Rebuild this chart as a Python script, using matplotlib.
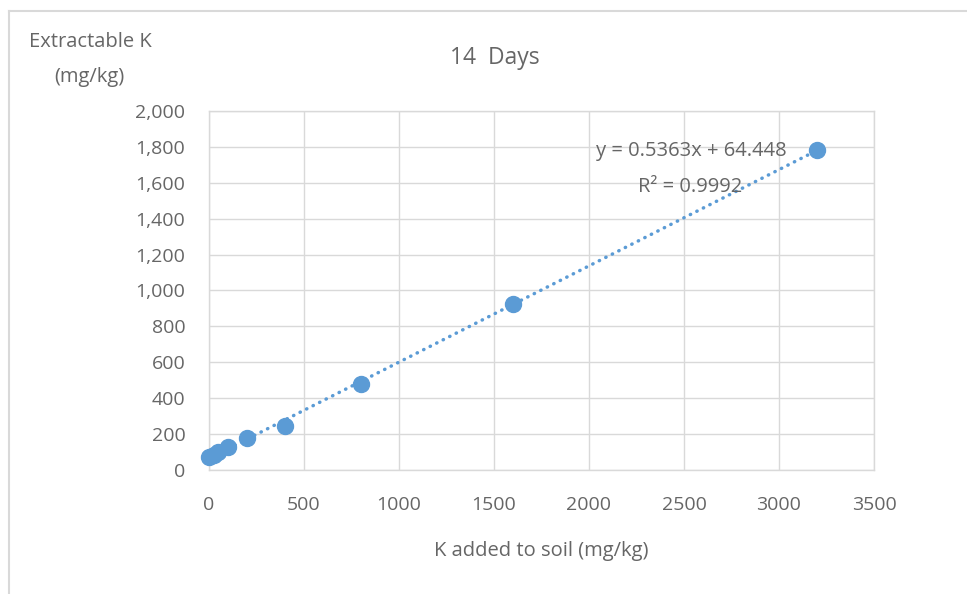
import matplotlib
matplotlib.use("Agg")
import matplotlib.pyplot as plt
from matplotlib.lines import Line2D
from matplotlib.ticker import FuncFormatter, MultipleLocator
import numpy as np

# Potassium added to soil vs. extractable K after 14 days
k_added = [0, 25, 50, 100, 200, 400, 800, 1600, 3200]
k_extractable = [75, 86, 100, 128, 178, 245, 480, 922, 1782]

# Linear trendline as reported
slope = 0.5363
intercept = 64.448
r_squared = 0.9992

plt.rcParams['font.family'] = ['Open Sans', 'DejaVu Sans']
text_color = '#666666'
grid_color = '#d9d9d9'
blue = '#5B9BD5'

fig = plt.figure(figsize=(9.67, 5.94), dpi=100)
ax = fig.add_axes([0.2161, 0.2088, 0.6877, 0.6043])

# chart frame
fig.add_artist(Line2D([0.0093, 1.0], [0.9815, 0.9815], color=grid_color, lw=1.5,
                      transform=fig.transFigure))
fig.add_artist(Line2D([0.0093, 0.0093], [0.0, 0.9815], color=grid_color, lw=1.5,
                      transform=fig.transFigure))

ax.set_xlim(0, 3500)
ax.set_ylim(0, 2000)
ax.xaxis.set_major_locator(MultipleLocator(500))
ax.yaxis.set_major_locator(MultipleLocator(200))
ax.yaxis.set_major_formatter(FuncFormatter(lambda v, p: f"{int(v):,}"))
ax.grid(True, color=grid_color, lw=1)
ax.set_axisbelow(True)
for s in ax.spines.values():
    s.set_color(grid_color)
    s.set_linewidth(1)
ax.tick_params(length=0, colors=text_color, labelsize=14)
ax.tick_params(axis='y', pad=17)
ax.tick_params(axis='x', pad=19)

xs = np.array([0, max(k_added)])
ax.plot(xs, slope * xs + intercept, linestyle=(0, (0.1, 2.0)), color=blue, lw=2.5,
        dash_capstyle='round', zorder=2)
ax.plot(k_added, k_extractable, 'o', color=blue, markersize=11.5, zorder=3,
        clip_on=False)

ax.text(2538, 1775, f"y = {slope}x + {intercept}", ha='center', va='center',
        fontsize=14.5, color=text_color)
ax.text(2535, 1575, f"R² = {r_squared}", ha='center', va='center',
        fontsize=14.5, color=text_color)

fig.text(0.512, 0.902, "14  Days", ha='center', va='center', fontsize=16.5,
         color=text_color)
fig.text(0.093, 0.930, "Extractable K", ha='center', va='center', fontsize=14.5,
         color=text_color)
fig.text(0.092, 0.871, "(mg/kg)", ha='center', va='center', fontsize=14.5,
         color=text_color)
fig.text(0.560, 0.072, "K added to soil (mg/kg)", ha='center', va='center',
         fontsize=14.5, color=text_color)

fig.savefig("out.png", dpi=100, facecolor='white')
